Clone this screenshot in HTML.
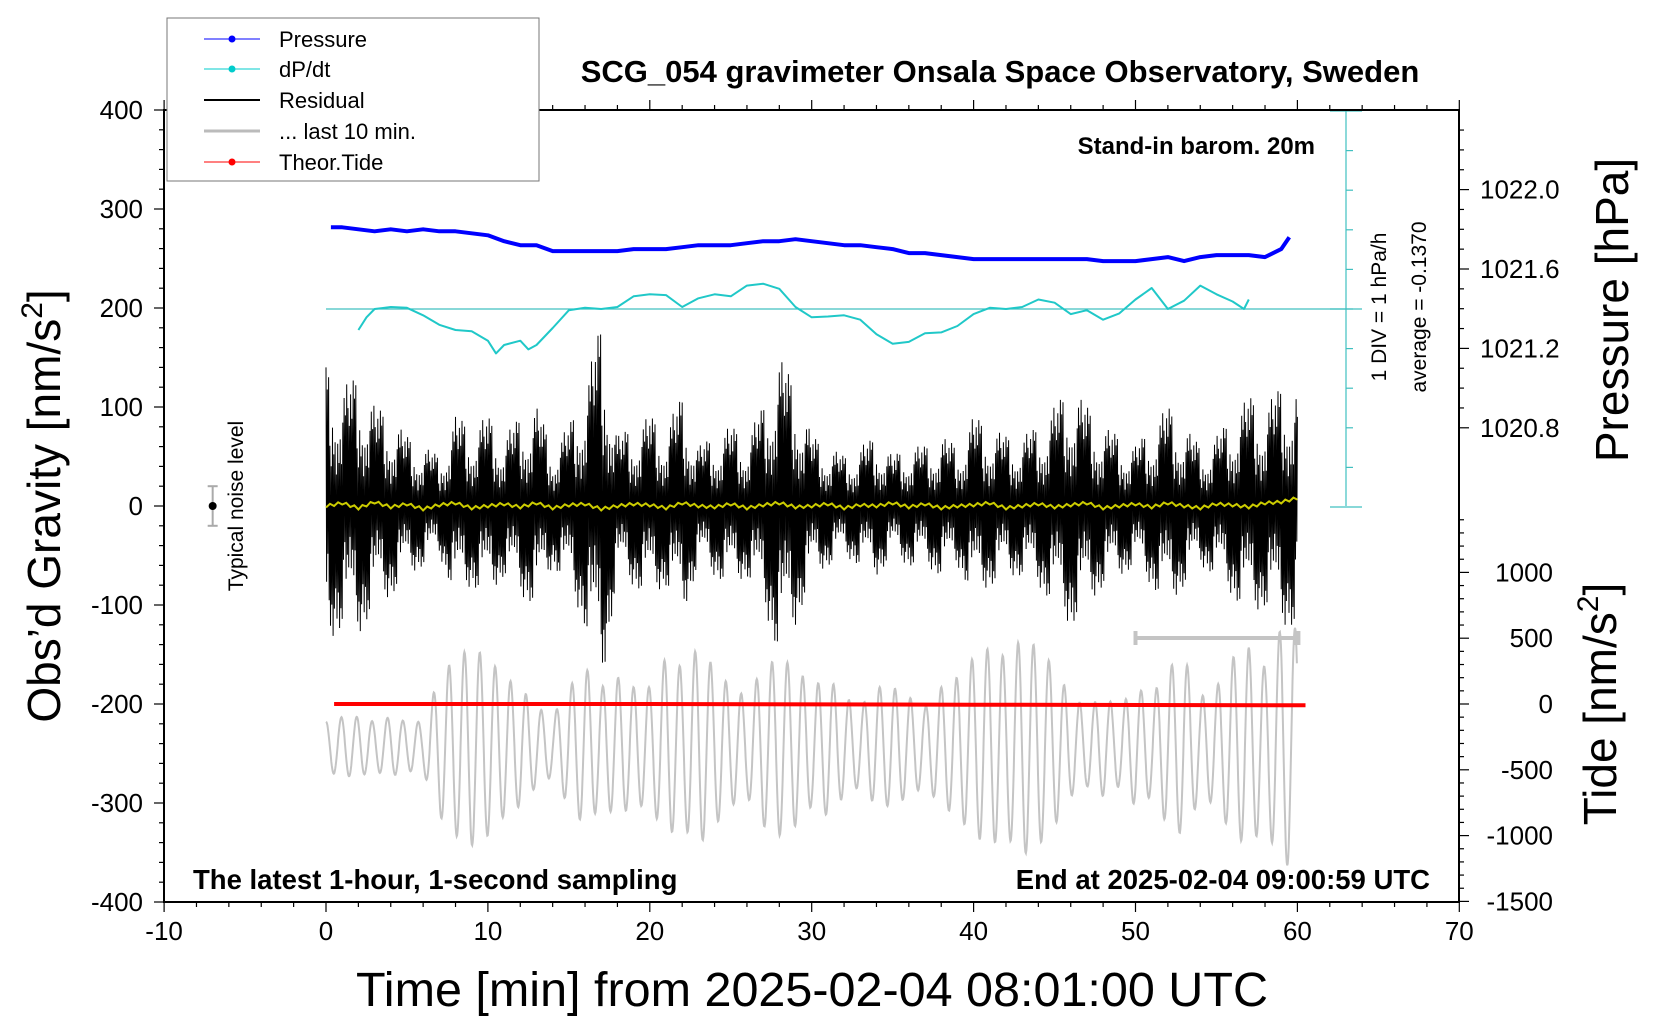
<!DOCTYPE html>
<html><head><meta charset="utf-8"><style>
html,body{margin:0;padding:0;background:#fff;}
svg{display:block;font-family:"Liberation Sans",Arial,sans-serif;}
</style></head><body>
<svg id="chart" width="1660" height="1020" viewBox="0 0 1660 1020" xmlns="http://www.w3.org/2000/svg">
<rect x="0" y="0" width="1660" height="1020" fill="#fff"/>
<g id="plot"></g>
<g id="axes"></g>
<text x="1000" y="82" font-size="31" font-weight="bold" text-anchor="middle">SCG_054 gravimeter Onsala Space Observatory, Sweden</text>
<text x="1315" y="154" font-size="24" font-weight="bold" text-anchor="end">Stand-in barom. 20m</text>
<text x="193" y="889" font-size="27.5" font-weight="bold">The latest 1-hour, 1-second sampling</text>
<text x="1430" y="889" font-size="27.5" font-weight="bold" text-anchor="end">End at 2025-02-04 09:00:59 UTC</text>
<text x="812" y="1006" font-size="48.5" text-anchor="middle">Time [min] from 2025-02-04 08:01:00 UTC</text>
<text transform="translate(60,506) rotate(-90)" font-size="46" text-anchor="middle">Obs’d Gravity [nm/s<tspan font-size="30" dy="-18">2</tspan><tspan dy="18">]</tspan></text>
<text transform="translate(1628,310) rotate(-90)" font-size="46" text-anchor="middle">Pressure [hPa]</text>
<text transform="translate(1616,704) rotate(-90)" font-size="46" text-anchor="middle">Tide [nm/s<tspan font-size="30" dy="-18">2</tspan><tspan dy="18">]</tspan></text>
<text transform="translate(1386,307) rotate(-90)" font-size="21" text-anchor="middle">1 DIV = 1 hPa/h</text>
<text transform="translate(1426,307) rotate(-90)" font-size="21" text-anchor="middle">average = -0.1370</text>
<text transform="translate(243,506) rotate(-90)" font-size="21" text-anchor="middle">Typical noise level</text>
<g>
<rect x="167" y="18" width="372" height="163" fill="#fff" stroke="#777" stroke-width="1"/>
<g><line x1="204" y1="39" x2="260" y2="39" stroke="#0000ff" stroke-width="1"/><circle cx="232" cy="39" r="3.5" fill="#0000ff"/><text x="279" y="47" font-size="22">Pressure</text></g>
<g><line x1="204" y1="69" x2="260" y2="69" stroke="#00cccc" stroke-width="1"/><circle cx="232" cy="69" r="3.5" fill="#00cccc"/><text x="279" y="77" font-size="22">dP/dt</text></g>
<g><line x1="204" y1="100" x2="260" y2="100" stroke="#000" stroke-width="2"/><text x="279" y="108" font-size="22">Residual</text></g>
<g><line x1="204" y1="131" x2="260" y2="131" stroke="#bbb" stroke-width="3"/><text x="279" y="139" font-size="22">... last 10 min.</text></g>
<g><line x1="204" y1="162" x2="260" y2="162" stroke="#ff0000" stroke-width="1"/><circle cx="232" cy="162" r="3.5" fill="#ff0000"/><text x="279" y="170" font-size="22">Theor.Tide</text></g>
</g>
</svg>
<script>
// ---- data ----
const pressureTimes = [0.3,1,2,3,4,5,6,7,8,9,10,11,12,13,14,15,16,17,18,19,20,21,22,23,24,25,26,27,28,29,30,31,32,33,34,35,36,37,38,39,40,41,42,43,44,45,46,47,48,49,50,51,52,53,54,55,56,57,58,59,59.5];
const pressureValues = [1021.81,1021.81,1021.80,1021.79,1021.80,1021.79,1021.80,1021.79,1021.79,1021.78,1021.77,1021.74,1021.72,1021.72,1021.69,1021.69,1021.69,1021.69,1021.69,1021.70,1021.70,1021.70,1021.71,1021.72,1021.72,1021.72,1021.73,1021.74,1021.74,1021.75,1021.74,1021.73,1021.72,1021.72,1021.71,1021.70,1021.68,1021.68,1021.67,1021.66,1021.65,1021.65,1021.65,1021.65,1021.65,1021.65,1021.65,1021.65,1021.64,1021.64,1021.64,1021.65,1021.66,1021.64,1021.66,1021.67,1021.67,1021.67,1021.66,1021.70,1021.76];
const dpdtTimes = [2,2.5,3,4,5,6,7,8,9,10,10.5,11,12,12.5,13,14,15,16,17,18,19,20,21,22,23,24,25,26,27,28,29,30,31,32,33,34,35,36,37,38,39,40,41,42,43,44,45,46,47,48,49,50,51,52,53,54,55,56,56.7,57];
const dpdtValues = [-0.53,-0.21,0,0.05,0.03,-0.16,-0.40,-0.53,-0.56,-0.80,-1.12,-0.91,-0.80,-1.02,-0.91,-0.48,-0.03,0.03,0,0.05,0.32,0.37,0.35,0.05,0.27,0.37,0.32,0.59,0.64,0.51,0.05,-0.21,-0.19,-0.16,-0.27,-0.64,-0.88,-0.83,-0.61,-0.59,-0.43,-0.13,0.03,0,0.05,0.24,0.16,-0.13,-0.03,-0.27,-0.11,0.24,0.53,0,0.21,0.59,0.37,0.19,0,0.24];
const residualEnvelope = [140,120,130,100,90,70,60,50,90,80,90,70,90,100,60,80,120,185,70,80,90,80,110,60,70,80,70,100,150,120,70,60,50,60,70,50,60,60,70,60,90,80,70,70,80,100,120,100,80,70,60,80,100,80,60,70,90,110,100,120,120];
const residualPattern = [1,0.55,0.85,0.35,0.95,0.7,0.45,0.9,0.3,0.75,0.6,1,0.4,0.8,0.5,0.65,0.25,0.9,0.5,0.7,0.35];
const last10Amplitude = [25,30,30,25,30,25,25,70,90,100,90,70,60,40,30,60,80,60,70,60,60,90,80,100,80,60,50,80,90,80,60,70,50,40,60,60,50,40,60,70,90,100,90,110,100,80,50,40,50,40,60,50,80,90,50,60,90,100,80,120,120];
const tideTimes = [0.5,20,40,60.5];
const tideValues = [0,0,-5,-10];
const yellowValues = [0,3,-2,4,-1,2,-3,1,3,-2,0,2,-1,3,-2,1,2,-3,0,2,1,-2,3,0,-1,2,-2,1,3,-1,0,2,-2,1,0,3,-1,2,-2,0,1,3,-2,0,2,-1,1,3,-2,0,2,-1,3,0,-2,2,1,-1,3,4,8];
const xTicks = [-10,0,10,20,30,40,50,60,70];
const yTicks = [400,300,200,100,0,-100,-200,-300,-400];
const pTicks = [1022.0,1021.6,1021.2,1020.8];
const tideTicks = [1000,500,0,-500,-1000,-1500];

// ---- scales ----
const X = t => 326 + 16.19*t;
const Y = v => 506 - 0.99*v;
const P = h => 269 - (h-1021.6)*198.5;
const T = v => 704 - v*0.1316;
const D = v => 309 - v*39.6;
const NS = "http://www.w3.org/2000/svg";
const plot = document.getElementById('plot');
const axes = document.getElementById('axes');
function mk(tag, attrs, parent){const e=document.createElementNS(NS,tag);for(const k in attrs)e.setAttribute(k,attrs[k]);(parent||plot).appendChild(e);return e;}
function interp(arr,t){const i=Math.floor(t);const f=t-i;const a=arr[Math.min(i,arr.length-1)],b=arr[Math.min(i+1,arr.length-1)];return a+(b-a)*f;}

// residual
let pts=[];let k=0;
for(let t=0;t<=60;t+=0.04){const a=interp(residualEnvelope,t)*residualPattern[k%residualPattern.length];pts.push(X(t).toFixed(1)+','+Y((k%2?-1:1)*a).toFixed(1));k++;}
const res=mk('polyline',{points:pts.join(' '),fill:'none',stroke:'#000','stroke-width':1});



// yellow smoothed residual
let dense=[];for(let t=0;t<=60;t+=0.25){dense.push(X(t).toFixed(1)+','+Y(interp(yellowValues,t)+((t*4)%2?1.5:-1.5)).toFixed(1));}
const yel=mk('polyline',{points:dense.join(' '),fill:'none',stroke:'#cccc00','stroke-width':2});



// last 10 min grey
pts=[];
for(let t=0;t<=60;t+=0.03){pts.push(X(t).toFixed(1)+','+Y(-243+interp(last10Amplitude,t)*Math.cos(2*Math.PI*t/0.95)).toFixed(1));}
const gr=mk('polyline',{points:pts.join(' '),fill:'none',stroke:'#c4c4c4','stroke-width':2});



// grey 10-min bar
const bar=mk('g',{});


mk('line',{x1:X(50),y1:638,x2:X(60),y2:638,stroke:'#c4c4c4','stroke-width':4},bar);
mk('line',{x1:X(50),y1:631,x2:X(50),y2:645,stroke:'#c4c4c4','stroke-width':4},bar);
mk('line',{x1:X(60),y1:631,x2:X(60),y2:645,stroke:'#c4c4c4','stroke-width':6},bar);

// tide
pts=tideTimes.map((t,i)=>X(t).toFixed(1)+','+T(tideValues[i]).toFixed(1));
const td=mk('polyline',{points:pts.join(' '),fill:'none',stroke:'#ff0000','stroke-width':4});



// pressure
pts=pressureTimes.map((t,i)=>X(t).toFixed(1)+','+P(pressureValues[i]).toFixed(1));
const pl=mk('polyline',{points:pts.join(' '),fill:'none',stroke:'#0000ff','stroke-width':4,'stroke-linejoin':'round'});



// dP/dt
const zl=mk('line',{x1:X(0),y1:D(0),x2:1362,y2:D(0),stroke:'#40c0c0','stroke-width':1.2});


let dd=[];for(let i=0;i<dpdtTimes.length;i++)dd.push(X(dpdtTimes[i]).toFixed(1)+','+D(dpdtValues[i]).toFixed(1));
const dl=mk('polyline',{points:dd.join(' '),fill:'none',stroke:'#20c8c8','stroke-width':2,'stroke-linejoin':'round'});


const dax=mk('g',{});


mk('line',{x1:1346,y1:110,x2:1346,y2:506,stroke:'#40c0c0','stroke-width':1.2},dax);
for(let v=-5;v<=5;v++){const w=(v===-5||v===5)?16:7;mk('line',{x1:1346-(v===-5||v===5||v===0?16:0),y1:D(v),x2:1346+w,y2:D(v),stroke:'#40c0c0','stroke-width':1.2},dax);}

// noise marker
const nm=mk('g',{});


mk('line',{x1:X(-7),y1:Y(20),x2:X(-7),y2:Y(-20),stroke:'#aaa','stroke-width':2},nm);
mk('line',{x1:X(-7)-5,y1:Y(20),x2:X(-7)+5,y2:Y(20),stroke:'#aaa','stroke-width':2},nm);
mk('line',{x1:X(-7)-5,y1:Y(-20),x2:X(-7)+5,y2:Y(-20),stroke:'#aaa','stroke-width':2},nm);
mk('circle',{cx:X(-7),cy:Y(0),r:4,fill:'#000'},nm);

// axes frame
const fr=mk('rect',{x:164,y:110,width:1295,height:792,fill:'none',stroke:'#000','stroke-width':2},axes);


for(let t=-10;t<=70;t+=2){const maj=t%10===0;mk('line',{x1:X(t),y1:902,x2:X(t),y2:902+(maj?10:5),stroke:'#000','stroke-width':1.2},axes);mk('line',{x1:X(t),y1:110,x2:X(t),y2:110-(maj?10:5),stroke:'#000','stroke-width':1.2},axes);}
xTicks.forEach(t=>{const e=mk('text',{x:X(t),y:940,'font-size':26,'text-anchor':'middle'},axes);e.textContent=t;

});
for(let v=-400;v<=400;v+=20){const maj=v%100===0;mk('line',{x1:164,y1:Y(v),x2:164-(maj?10:5),y2:Y(v),stroke:'#000','stroke-width':1.2},axes);}
yTicks.forEach(v=>{const e=mk('text',{x:143,y:Y(v)+9,'font-size':26,'text-anchor':'end'},axes);e.textContent=v;

});
for(let i=0;i<=16;i++){const h=1022.4-i*0.1;const maj=Math.round(h*10)%4===0;const y=P(h);if(y<112||y>506)continue;mk('line',{x1:1459,y1:y,x2:1459+(maj?10:5),y2:y,stroke:'#000','stroke-width':1.2},axes);}
pTicks.forEach(h=>{const e=mk('text',{x:1480,y:P(h)+9,'font-size':26},axes);e.textContent=h.toFixed(1);

});
for(let v=-1500;v<=1500;v+=100){const maj=v%500===0;const y=T(v);if(y<508||y>902)continue;mk('line',{x1:1459,y1:y,x2:1459+(maj?10:5),y2:y,stroke:'#000','stroke-width':1.2},axes);}
tideTicks.forEach(v=>{const e=mk('text',{x:1553,y:T(v)+9,'font-size':26,'text-anchor':'end'},axes);e.textContent=v;

});
</script>
</body></html>
